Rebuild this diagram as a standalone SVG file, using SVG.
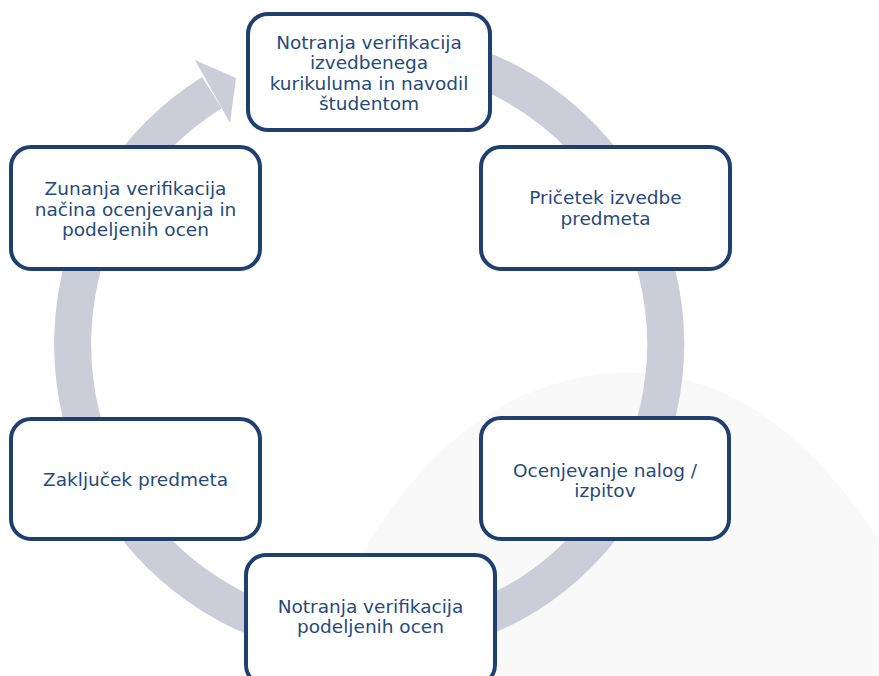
<svg xmlns="http://www.w3.org/2000/svg" width="879" height="676" viewBox="0 0 879 676">
  <style>
    .box { fill: #ffffff; stroke: #1f3f6e; stroke-width: 4; }
    .lbl { font-family: "DejaVu Sans", Verdana, sans-serif; font-size: 18.5px; fill: #264a7b; text-anchor: middle; }
    .ring { fill: none; stroke: #cbced8; stroke-width: 37; }
  </style>
  <rect x="0" y="0" width="879" height="676" fill="#ffffff"/>
  <path d="M300,676 C360,540 440,395 600,374 C710,362 800,420 879,540 L879,676 Z" fill="#f9f9fa"/>
  <g id="connectors">
    <path class="ring" d="M317.5,52 A296.5,296.5 0 1 1 211.9,92.6"/>
    <polygon points="195,60 236,78 230,123" fill="#cbced8"/>
  </g>
  <g id="node-top">
    <rect class="box" x="248" y="14" width="242" height="116" rx="20"/>
    <text class="lbl" x="369" y="48.5">Notranja verifikacija</text>
    <text class="lbl" x="369" y="69">izvedbenega</text>
    <text class="lbl" x="369" y="89.5">kurikuluma in navodil</text>
    <text class="lbl" x="369" y="110">študentom</text>
  </g>
  <g id="node-right-top">
    <rect class="box" x="481" y="147" width="249" height="122" rx="20"/>
    <text class="lbl" x="605.5" y="204">Pričetek izvedbe</text>
    <text class="lbl" x="605.5" y="224.5">predmeta</text>
  </g>
  <g id="node-right-bottom">
    <rect class="box" x="481" y="418" width="248" height="121" rx="20"/>
    <text class="lbl" x="605" y="477">Ocenjevanje nalog /</text>
    <text class="lbl" x="605" y="497">izpitov</text>
  </g>
  <g id="node-bottom">
    <rect class="box" x="246" y="555" width="249" height="130" rx="20"/>
    <text class="lbl" x="370.5" y="613">Notranja verifikacija</text>
    <text class="lbl" x="370.5" y="633">podeljenih ocen</text>
  </g>
  <g id="node-left-bottom">
    <rect class="box" x="11" y="419" width="249" height="120" rx="20"/>
    <text class="lbl" x="135.5" y="486">Zaključek predmeta</text>
  </g>
  <g id="node-left-top">
    <rect class="box" x="11" y="147" width="249" height="122" rx="20"/>
    <text class="lbl" x="135.5" y="195">Zunanja verifikacija</text>
    <text class="lbl" x="135.5" y="215.5">načina ocenjevanja in</text>
    <text class="lbl" x="135.5" y="236">podeljenih ocen</text>
  </g>
</svg>
